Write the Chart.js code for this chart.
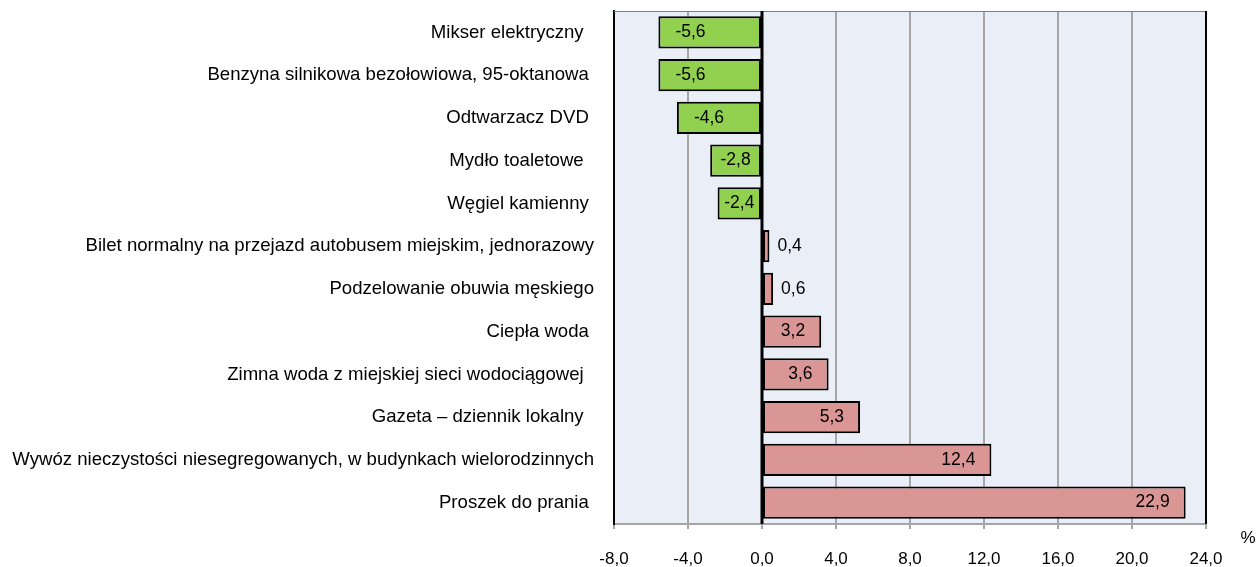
<!DOCTYPE html>
<html>
<head>
<meta charset="utf-8">
<script src="https://cdn.jsdelivr.net/npm/chart.js@4.4.0/dist/chart.umd.min.js"></script>
<style>
  html, body { margin: 0; padding: 0; background: #fff; }
  #box { width: 1257px; height: 567px; }
</style>
</head>
<body>
<div id="box"><canvas id="priceBox"></canvas></div>
<script>
var labels = [
  'Mikser elektryczny  ',
  'Benzyna silnikowa bezołowiowa, 95-oktanowa ',
  'Odtwarzacz DVD ',
  'Mydło toaletowe  ',
  'Węgiel kamienny ',
  'Bilet normalny na przejazd autobusem miejskim, jednorazowy',
  'Podzelowanie obuwia męskiego',
  'Ciepła woda ',
  'Zimna woda z miejskiej sieci wodociągowej  ',
  'Gazeta – dziennik lokalny  ',
  'Wywóz nieczystości niesegregowanych, w budynkach wielorodzinnych',
  'Proszek do prania '
];
var values = [-5.6, -5.6, -4.6, -2.8, -2.4, 0.4, 0.6, 3.2, 3.6, 5.3, 12.4, 22.9];
var xTicks = [-8, -4, 0, 4, 8, 12, 16, 20, 24];

var FONT = '"Liberation Sans", Arial, sans-serif';

function fmt(v) {
  return v.toFixed(1).replace('.', ',');
}

// tlo, ramka, linia zera, etykiety
var extras = {
  id: 'extras',
  beforeDraw: function(chart) {
    var a = chart.chartArea, c = chart.ctx;
    c.save();
    c.fillStyle = '#E9EEF7';
    c.fillRect(a.left, a.top, a.right - a.left, a.bottom - a.top);
    c.restore();
  },
  afterDatasetsDraw: function(chart) {
    var a = chart.chartArea, c = chart.ctx;
    var x0 = chart.scales.x.getPixelForValue(0);
    c.save();
    // top (gray) and right (black) border
    c.strokeStyle = '#7F7F7F';
    c.lineWidth = 1;
    c.beginPath(); c.moveTo(a.left, a.top + 0.5); c.lineTo(a.right, a.top + 0.5); c.stroke();
    c.strokeStyle = '#000';
    c.lineWidth = 2;
    c.beginPath(); c.moveTo(a.right, a.top); c.lineTo(a.right, a.bottom); c.stroke();
    // zero line
    c.lineWidth = 3;
    c.beginPath(); c.moveTo(x0, a.top); c.lineTo(x0, a.bottom); c.stroke();

    // value labels (inside end, centred when bar is short)
    c.font = '17.5px ' + FONT;
    c.fillStyle = '#000';
    c.textBaseline = 'middle';
    c.textAlign = 'left';
    var meta = chart.getDatasetMeta(0);
    meta.data.forEach(function(bar, i) {
      var v = values[i];
      var t = fmt(v);
      var w = c.measureText(t).width;
      var mid = (bar.x + bar.base) / 2;
      var left;
      if (v < 0) {
        left = Math.min(bar.x + 17, mid - w / 2);
      } else if (v < 1) {
        left = bar.x + 8;
      } else {
        left = Math.max(bar.x - 16 - w, mid - w / 2);
      }
      c.fillText(t, left, bar.y);
    });
    // unit
    c.font = '17px ' + FONT;
    c.textAlign = 'center';
    c.fillText('%', 1248, 538);
    c.restore();
  }
};

function drawPriceChart(ctx, labels, data) {
  var chart = new Chart(ctx, {
    type: 'bar',
    data: {
      labels: labels,
      datasets: [{
        data: data,
        backgroundColor: data.map(function(v) { return v < 0 ? '#92D050' : '#DA9694'; }),
        borderColor: '#000',
        borderWidth: 2,
        borderSkipped: false,
        barPercentage: 0.75,
        categoryPercentage: 1
      }]
    },
    options: {
      indexAxis: 'y',
      responsive: false,
      animation: false,
      layout: { padding: { left: 0, right: 51, top: 11, bottom: 0 } },
      plugins: { legend: { display: false }, tooltip: { enabled: false } },
      scales: {
        x: {
          min: -8,
          max: 24,
          afterBuildTicks: function(scale) {
            scale.ticks = xTicks.map(function(v) { return { value: v }; });
          },
          afterFit: function(scale) { scale.height = 43; },
          grid: {
            color: '#A6A6A6',
            lineWidth: 2,
            tickLength: 5,
            tickColor: '#A6A6A6'
          },
          border: { color: '#A6A6A6', width: 2 },
          ticks: {
            color: '#000',
            padding: 20,
            maxRotation: 0,
            font: { family: FONT, size: 17 },
            callback: function(v) { return fmt(v); }
          }
        },
        y: {
          afterFit: function(scale) {
            scale.width = 614;
            scale.paddingTop = 0;
            scale.paddingBottom = 0;
          },
          grid: { display: false, drawTicks: false, tickLength: 0 },
          border: { color: '#000', width: 2 },
          ticks: {
            color: '#000',
            padding: 20,
            autoSkip: false,
            font: { family: FONT, size: 18.6 }
          }
        }
      }
    },
    plugins: [extras]
  });
  return chart;
}

var cv = document.getElementById('priceBox');
cv.width = 1257;
cv.height = 567;
drawPriceChart(cv, labels, values);
</script>
</body>
</html>
